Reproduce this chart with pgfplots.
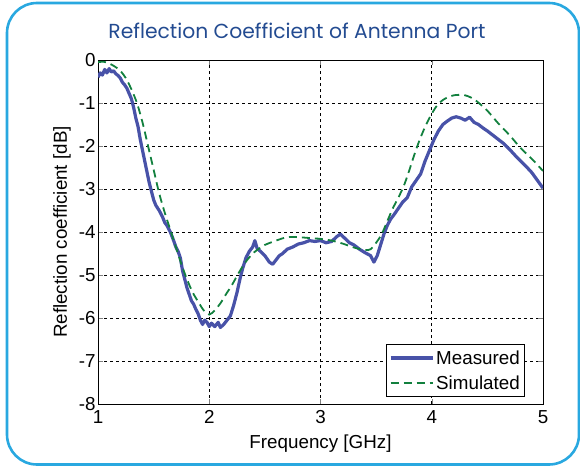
\documentclass[border=0pt]{standalone}
\usepackage{pgfplots}
\pgfplotsset{compat=1.18}
\usepackage{fontspec}
\setmainfont{Liberation Sans}
\newfontfamily\titlefont{Poppins}
\definecolor{frameblue}{RGB}{41,168,224}
\definecolor{titleblue}{RGB}{35,75,145}
\definecolor{measblue}{RGB}{72,82,168}
\definecolor{simgreen}{RGB}{18,128,62}
\begin{document}
\begin{tikzpicture}[x=1pt,y=1pt]
\path[use as bounding box] (0,0) rectangle (580,467);
\draw[frameblue, line width=2.6pt, rounded corners=30pt] (7,2.5) rectangle (579,464);
\node[titleblue, font=\titlefont\fontsize{20.3}{24}\selectfont] at (297,436) {Reflection Coefficient of Antenna Port};
\begin{axis}[
  at={(98pt,63pt)}, anchor=south west,
  scale only axis, width=445pt, height=344pt,
  xmin=1, xmax=5, ymin=-8, ymax=0,
  xtick={1,2,3,4,5},
  ytick={-8,-7,-6,-5,-4,-3,-2,-1,0},
  yticklabels={-8,-7,-6,-5,-4,-3,-2,-1,0},
  /pgf/number format/assume math mode=true,
  tick label style={font=\fontsize{18.8}{21}\selectfont},
  label style={font=\fontsize{18.8}{21}\selectfont},
  xticklabel style={yshift=-3pt},
  yticklabel style={xshift=1pt},
  xlabel={Frequency [GHz]},
  ylabel={Reflection coefficient [dB]},
  xlabel style={yshift=-4pt},
  ylabel style={yshift=1pt},
  tick align=inside, tick pos=both,
  major tick length=5pt,
  grid=major,
  major grid style={black, dashed, line width=0.6pt},
  axis line style={black, line width=0.8pt},
  legend style={at={(0.96,0.02)}, anchor=south east, draw=black, line width=0.8pt,
    font=\fontsize{18.8}{21}\selectfont, inner xsep=3pt, inner ysep=4pt, row sep=6pt},
  legend cell align=left,
  legend image code/.code={\draw[#1] (0pt,0pt) -- (42pt,0pt);},
]
\addplot[measblue, line width=3.2pt, line join=round] coordinates {
(1.00,-0.40)(1.02,-0.30)(1.04,-0.35)(1.06,-0.22)(1.08,-0.30)(1.10,-0.20)(1.12,-0.28)(1.14,-0.25)
(1.16,-0.32)(1.18,-0.36)(1.20,-0.42)(1.22,-0.52)(1.24,-0.58)(1.26,-0.66)(1.28,-0.78)(1.30,-0.90)
(1.32,-1.10)(1.34,-1.35)(1.36,-1.55)(1.38,-1.85)(1.40,-2.10)(1.42,-2.35)(1.44,-2.60)(1.46,-2.85)
(1.48,-3.05)(1.50,-3.25)(1.52,-3.38)(1.55,-3.50)(1.58,-3.65)(1.60,-3.78)(1.62,-3.85)(1.65,-4.00)
(1.68,-4.20)(1.70,-4.35)(1.72,-4.45)(1.74,-4.60)(1.76,-4.90)(1.78,-5.10)(1.80,-5.30)(1.82,-5.45)
(1.84,-5.60)(1.86,-5.68)(1.88,-5.80)(1.90,-5.90)(1.92,-6.05)(1.94,-6.15)(1.96,-6.05)(1.98,-6.10)
(2.00,-6.20)(2.02,-6.12)(2.05,-6.20)(2.08,-6.10)(2.10,-6.22)(2.13,-6.15)(2.16,-6.05)(2.19,-5.95)
(2.22,-5.70)(2.25,-5.40)(2.28,-5.05)(2.30,-4.85)(2.33,-4.60)(2.36,-4.45)(2.39,-4.35)(2.41,-4.20)
(2.43,-4.38)(2.46,-4.45)(2.50,-4.55)(2.54,-4.70)(2.57,-4.75)(2.60,-4.65)(2.63,-4.55)(2.66,-4.50)
(2.70,-4.40)(2.75,-4.35)(2.80,-4.28)(2.85,-4.25)(2.90,-4.20)(2.95,-4.22)(3.00,-4.20)(3.05,-4.25)
(3.10,-4.22)(3.15,-4.10)(3.18,-4.05)(3.22,-4.15)(3.26,-4.25)(3.30,-4.30)(3.35,-4.40)(3.40,-4.48)
(3.45,-4.55)(3.48,-4.70)(3.51,-4.55)(3.54,-4.30)(3.57,-4.05)(3.60,-3.85)(3.63,-3.70)(3.66,-3.60)
(3.70,-3.45)(3.74,-3.30)(3.78,-3.20)(3.82,-2.95)(3.86,-2.80)(3.90,-2.65)(3.94,-2.35)(3.98,-2.10)
(4.02,-1.85)(4.06,-1.65)(4.10,-1.50)(4.14,-1.42)(4.18,-1.35)(4.22,-1.32)(4.26,-1.35)(4.30,-1.40)
(4.34,-1.33)(4.38,-1.45)(4.42,-1.50)(4.46,-1.58)(4.50,-1.65)(4.55,-1.75)(4.60,-1.85)(4.65,-1.95)
(4.70,-2.08)(4.75,-2.22)(4.80,-2.35)(4.85,-2.48)(4.90,-2.62)(4.95,-2.80)(5.00,-2.98)
};
\addlegendentry{Measured}
\addplot[simgreen, line width=1.8pt, dash pattern=on 8pt off 5pt, smooth] coordinates {
(1.00,-0.05)(1.05,-0.04)(1.10,-0.08)(1.15,-0.15)(1.20,-0.25)(1.25,-0.42)(1.30,-0.68)(1.35,-1.00)
(1.40,-1.45)(1.45,-2.00)(1.50,-2.55)(1.55,-3.10)(1.60,-3.55)(1.65,-3.95)(1.70,-4.35)(1.75,-4.75)
(1.80,-5.10)(1.85,-5.40)(1.90,-5.62)(1.95,-5.82)(2.00,-5.92)(2.05,-5.82)(2.10,-5.66)(2.15,-5.45)
(2.20,-5.25)(2.25,-5.02)(2.30,-4.80)(2.35,-4.62)(2.40,-4.48)(2.45,-4.38)(2.50,-4.30)(2.60,-4.20)
(2.70,-4.12)(2.80,-4.12)(2.90,-4.14)(3.00,-4.16)(3.10,-4.20)(3.20,-4.27)(3.30,-4.36)(3.40,-4.42)
(3.45,-4.40)(3.50,-4.25)(3.55,-4.05)(3.60,-3.75)(3.65,-3.45)(3.70,-3.20)(3.75,-2.92)(3.80,-2.55)
(3.85,-2.15)(3.90,-1.80)(3.95,-1.50)(4.00,-1.25)(4.05,-1.05)(4.10,-0.93)(4.15,-0.86)(4.20,-0.82)
(4.25,-0.81)(4.30,-0.82)(4.35,-0.87)(4.40,-0.95)(4.50,-1.18)(4.60,-1.48)(4.70,-1.75)(4.80,-2.05)
(4.90,-2.30)(5.00,-2.58)
};
\addlegendentry{Simulated}
\end{axis}
\end{tikzpicture}
\end{document}
